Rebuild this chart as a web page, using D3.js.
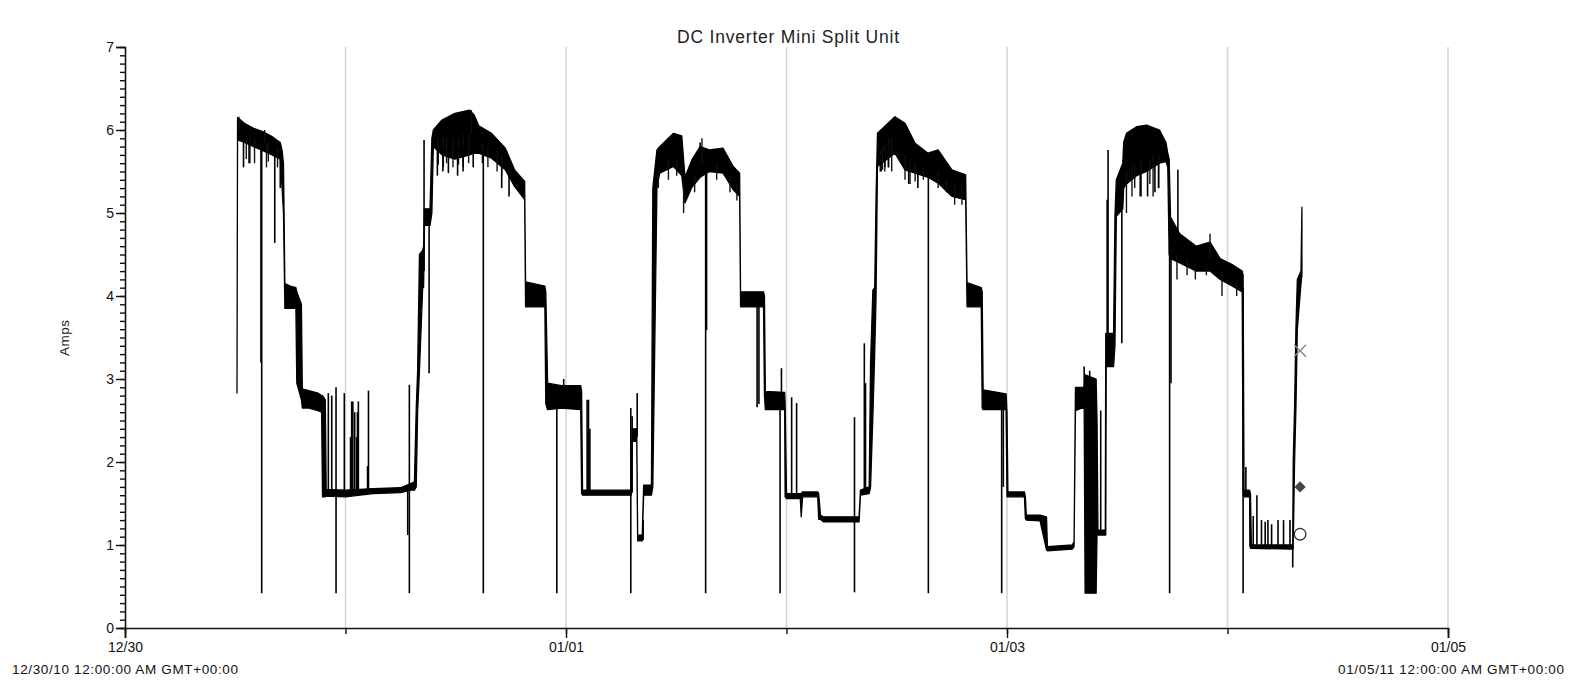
<!DOCTYPE html>
<html>
<head>
<meta charset="utf-8">
<script src="https://cdn.jsdelivr.net/npm/d3@7"></script>
<style>
html,body{margin:0;padding:0;background:#fff;}
svg{display:block;font-family:"Liberation Sans",Arial,sans-serif;}
</style>
</head>
<body>
<svg id="chart" width="1571" height="684"></svg>
<script>
// ---- Data (hours since 12/30/10 00:00 GMT, amps) ----
// Envelope of the dense current trace: low and high amps at each time
const traceHours = [12.19,12.25,13.0,14.0,15.0,16.0,16.9,17.1,17.25,17.4,18.0,18.6,18.7,19.2,19.3,20.0,21.0,21.4,21.5,21.8,21.9,24.0,27.0,30.0,31.1,31.5,31.7,31.85,32.05,32.4,32.5,32.6,33.2,33.4,33.56,34.5,35.9,37.5,38.0,38.5,39.9,41.4,42.4,43.5,43.6,45.7,45.8,46.0,47.5,49.6,49.7,49.8,55.0,55.1,55.2,55.7,55.8,56.3,56.45,57.3,57.45,57.9,58.2,59.7,60.6,60.95,61.7,62.6,63.6,65.1,66.2,66.9,67.0,69.5,69.6,69.7,71.8,71.85,72.0,73.5,73.6,73.75,75.4,75.5,75.7,76.0,79.9,80.05,81.0,81.15,81.4,81.6,81.75,81.9,83.8,84.9,86.0,87.4,88.5,90.0,91.5,91.65,93.2,93.3,93.4,95.9,96.0,96.1,97.9,98.0,98.1,99.6,100.3,100.4,103.1,103.3,103.45,104.4,104.5,105.7,105.8,105.9,106.6,106.7,106.75,106.8,107.6,107.75,107.9,108.6,108.7,109.0,110.1,111.2,112.6,113.3,113.5,113.65,113.8,114.8,116.6,118.1,119.2,120.5,121.6,121.7,121.8,122.4,122.5,122.6,127.1,127.15,127.3,127.45,127.6,128.0,128.1];
const traceLow   = [2.83,5.88,5.85,5.80,5.75,5.70,5.65,5.30,5.00,3.85,3.85,3.85,2.95,2.75,2.65,2.65,2.62,2.60,1.58,1.58,1.59,1.58,1.62,1.63,1.66,1.66,1.70,2.60,3.10,4.10,4.10,4.85,4.85,5.00,5.80,5.70,5.65,5.70,5.72,5.72,5.66,5.52,5.32,5.16,3.87,3.87,2.70,2.63,2.65,2.63,1.62,1.60,1.60,1.60,2.25,2.25,1.05,1.05,1.60,1.60,1.70,5.31,5.48,5.56,5.45,5.12,5.31,5.43,5.50,5.48,5.28,5.20,3.87,3.87,2.80,2.63,2.63,1.58,1.56,1.56,1.34,1.58,1.58,1.31,1.31,1.28,1.28,1.60,1.62,1.70,2.55,3.30,4.00,5.56,5.72,5.52,5.48,5.43,5.36,5.20,5.16,3.87,3.87,2.65,2.63,2.63,1.58,1.58,1.58,1.32,1.30,1.29,0.94,0.93,0.95,0.98,2.62,2.66,0.42,0.42,1.12,1.12,1.12,1.12,1.12,3.15,3.15,3.40,4.96,5.05,5.30,5.35,5.45,5.50,5.60,5.62,5.55,4.50,4.45,4.40,4.30,4.30,4.20,4.12,4.05,1.60,1.58,1.58,0.96,0.96,0.95,0.95,2.00,2.65,3.60,4.15,4.25];
const traceHigh  = [2.86,6.15,6.08,6.02,5.98,5.92,5.85,5.75,5.60,4.15,4.12,4.10,4.05,3.90,2.88,2.86,2.83,2.80,2.80,2.75,1.67,1.66,1.68,1.69,1.74,1.76,2.65,3.10,4.50,4.55,4.60,5.05,5.05,5.90,6.00,6.12,6.20,6.24,6.18,6.05,5.96,5.78,5.52,5.38,4.17,4.12,4.05,2.95,2.92,2.92,2.85,1.66,1.66,1.66,2.40,2.40,1.12,1.12,1.72,1.72,5.30,5.76,5.80,5.96,5.93,5.43,5.64,5.80,5.76,5.78,5.56,5.48,4.05,4.05,4.00,2.85,2.84,2.70,1.62,1.62,1.62,1.64,1.64,1.62,1.36,1.34,1.34,1.66,1.70,3.20,4.07,4.10,5.20,5.96,6.16,6.08,5.84,5.72,5.76,5.52,5.46,4.16,4.10,4.05,2.87,2.82,2.60,1.64,1.64,1.58,1.36,1.36,1.34,0.98,1.00,1.04,2.90,2.90,3.05,3.00,2.50,1.18,1.18,1.18,3.55,3.55,3.55,4.96,5.40,5.60,5.85,5.96,6.04,6.06,6.00,5.85,5.72,5.65,4.95,4.75,4.60,4.65,4.45,4.38,4.30,4.25,1.66,1.66,1.62,1.00,1.00,2.00,2.65,3.63,4.20,4.30,5.07];

// Brief excursions of the trace: time, level it leaves, level it reaches
const spikeHours = [12.9,13.5,14.8,14.88,16.3,16.9,22.13,22.5,22.97,22.97,23.87,24.55,24.67,24.8,25.0,25.2,25.3,25.4,26.4,26.5,30.77,30.95,30.95,32.55,33.1,34.0,34.6,35.2,36.2,36.8,37.9,39.0,41.0,41.8,47.0,47.75,50.3,50.45,50.6,55.05,55.05,55.2,55.75,56.4,62.6,63.2,63.3,68.8,69.0,71.3,71.45,72.56,73.1,79.4,79.4,80.47,80.6,82.3,82.7,83.1,85.3,86.3,87.44,95.42,95.6,104.4,105.0,106.2,106.9,107.0,108.5,110.5,111.3,112.1,112.5,113.7,113.85,114.6,121.7,122.0,122.45,122.8,123.2,123.7,124.1,124.4,124.8,125.5,126.1,126.8,127.1];
const spikeFrom  = [5.90,5.90,5.85,5.85,5.75,5.70,1.62,1.62,1.62,1.62,1.62,1.62,1.62,1.62,1.62,1.62,1.62,1.62,1.62,1.62,1.68,1.68,1.68,4.30,5.00,5.80,5.80,5.80,5.80,5.80,5.80,5.75,5.60,5.50,2.70,2.80,1.62,1.62,1.62,1.63,1.63,1.63,2.30,1.06,5.50,5.70,5.70,3.90,3.90,2.70,2.75,1.60,1.60,1.31,1.31,1.65,1.65,5.70,5.75,5.75,5.60,5.55,5.60,2.70,2.70,2.80,2.90,1.15,3.30,3.30,5.10,5.50,5.55,5.60,5.60,4.60,4.60,4.60,4.10,1.62,0.98,0.98,0.98,0.98,0.98,0.98,0.98,0.98,0.98,0.98,0.98];
const spikeTo    = [5.55,5.60,3.20,0.42,4.64,5.30,2.83,2.80,2.90,0.42,2.83,2.30,2.73,2.73,2.60,2.30,2.60,2.73,1.95,2.86,1.12,0.42,2.93,5.88,3.07,5.45,5.50,5.48,5.45,5.50,5.55,0.42,5.30,5.20,0.42,3.00,2.75,2.75,2.40,0.42,2.65,2.55,2.83,1.30,5.85,0.42,3.59,2.66,2.70,0.42,3.13,2.78,2.71,0.43,2.54,3.43,2.95,5.50,5.55,5.55,5.35,5.30,0.42,0.42,1.70,3.15,3.10,2.62,5.16,5.76,3.43,5.20,5.20,5.25,5.30,0.42,2.95,5.52,0.42,1.94,1.60,1.35,1.60,1.30,1.28,1.30,1.25,1.30,1.30,1.30,0.73];

// Fine ripple on the edges of the high-load bands: time, from, to
const rippleHours = [12.4,13.2,13.6,14.1,15.2,15.4,15.6,16.6,34.1,34.65,35.0,35.7,36.3,36.8,37.4,37.7,38.9,39.5,40.5,41.0,58.05,59.15,60.05,60.8,62.0,62.8,64.4,65.85,66.6,82.2,82.45,82.7,83.1,83.45,84.9,85.45,86.0,86.9,88.5,89.4,90.3,91.1,109.0,109.6,109.9,110.6,111.55,111.9,112.5,114.5,115.6,116.5,117.7,118.1,119.4,121.0];
const rippleFrom = [6.00,5.95,5.92,5.90,5.85,5.85,5.85,5.78,5.90,5.90,5.90,5.90,5.90,5.95,5.95,5.95,5.85,5.80,5.75,5.70,5.50,5.65,5.65,5.30,5.45,5.60,5.60,5.45,5.35,5.75,5.80,5.85,5.90,5.90,5.70,5.65,5.60,5.55,5.50,5.40,5.35,5.30,5.50,5.60,5.60,5.65,5.65,5.70,5.70,4.50,4.45,4.40,4.40,4.45,4.30,4.20];
const rippleTo   = [6.16,5.65,5.60,5.60,6.00,5.55,5.62,5.55,5.58,5.55,5.60,5.55,5.58,5.55,5.60,6.24,5.60,5.55,5.50,5.45,5.30,5.40,5.45,5.00,5.25,5.90,5.40,5.25,5.15,5.50,5.52,5.50,5.55,5.50,5.40,5.35,5.38,5.40,5.30,5.25,5.10,5.10,5.00,5.20,5.30,5.20,5.35,5.20,5.30,4.20,4.25,4.20,4.25,4.75,4.00,4.00];

// Summary markers drawn at the end of the trace
const markerHours  = [127.9, 127.9, 127.9];
const markerAmps   = [3.34, 1.70, 1.13];
const markerShapes = ["cross", "diamond", "circle"];

// Axes
const yMajorTicks = [0,1,2,3,4,5,6,7];
const dayTicks = ["2010-12-30","2010-12-31","2011-01-01","2011-01-02","2011-01-03","2011-01-04","2011-01-05"];
const labeledDays = ["2010-12-30","2011-01-01","2011-01-03","2011-01-05"];
const labeledDayText = ["12/30","01/01","01/03","01/05"];
const endLabels = ["12/30/10 12:00:00 AM GMT+00:00","01/05/11 12:00:00 AM GMT+00:00"];
const chartTitle = "DC Inverter Mini Split Unit";
const yTitle = "Amps";

// ---- Drawing ----
const svg = d3.select("#chart");
const start = new Date(Date.UTC(2010,11,30));
const toDate = h => new Date(start.getTime() + h*3600e3);
const parse = s => new Date(s + "T00:00:00Z");
const FONT = "Liberation Sans, Arial, sans-serif";

const x = d3.scaleUtc().domain([parse(dayTicks[0]), parse(dayTicks[dayTicks.length-1])]).range([125, 1448]);
const y = d3.scaleLinear().domain([0, 7]).range([628, 47]);

// grid lines
svg.append("g").selectAll("line").data(dayTicks.slice(1)).join("line")
  .attr("x1", d => x(parse(d))).attr("x2", d => x(parse(d)))
  .attr("y1", y(7)).attr("y2", y(0))
  .attr("stroke", "#d6d6d6").attr("stroke-width", 1.6);

// title
svg.append("text").attr("x", 788).attr("y", 43).attr("text-anchor", "middle")
  .attr("font-size", 17.5).attr("fill", "#222")
  .attr("textLength", 222).attr("lengthAdjust", "spacing").text(chartTitle);

// y title
svg.append("text").attr("transform", "translate(69,338) rotate(-90)")
  .attr("text-anchor", "middle").attr("font-size", 13.5).attr("fill", "#222")
  .attr("textLength", 36).attr("lengthAdjust", "spacing").text(yTitle);

// trace
const rows = traceHours.map((h,i) => ({t: toDate(h), lo: traceLow[i], hi: traceHigh[i]}));
const area = d3.area().x(d => x(d.t)).y0(d => y(d.lo)).y1(d => y(d.hi));
svg.append("path").datum(rows).attr("d", area)
  .attr("fill", "#000").attr("stroke", "#000").attr("stroke-width", 1.3).attr("stroke-linejoin", "round");

const ripples = rippleHours.map((h,i) => ({t: toDate(h), a: rippleFrom[i], b: rippleTo[i]}));
svg.append("g").selectAll("line").data(ripples).join("line")
  .attr("x1", d => x(d.t)).attr("x2", d => x(d.t))
  .attr("y1", d => y(d.a)).attr("y2", d => y(d.b))
  .attr("stroke", "#111").attr("stroke-width", 1.4);

const spikes = spikeHours.map((h,i) => ({t: toDate(h), a: spikeFrom[i], b: spikeTo[i]}));
svg.append("g").selectAll("line").data(spikes).join("line")
  .attr("x1", d => x(d.t)).attr("x2", d => x(d.t))
  .attr("y1", d => y(d.a)).attr("y2", d => y(d.b))
  .attr("stroke", "#000").attr("stroke-width", 1.6);

// markers
const markers = markerHours.map((h,i) => ({t: toDate(h), v: markerAmps[i], s: markerShapes[i]}));
const mg = svg.append("g");
markers.forEach(m => {
  const cx = x(m.t), cy = y(m.v);
  if (m.s === "cross") {
    mg.append("path").attr("d", `M${cx-6},${cy-6}L${cx+6},${cy+6}M${cx-6},${cy+6}L${cx+6},${cy-6}`)
      .attr("stroke", "#8a8a8a").attr("stroke-width", 1.5).attr("fill", "none");
  } else if (m.s === "diamond") {
    mg.append("path").attr("d", d3.symbol().type(d3.symbolDiamond2).size(80)())
      .attr("transform", `translate(${cx},${cy})`).attr("fill", "#444");
  } else {
    mg.append("circle").attr("cx", cx).attr("cy", cy).attr("r", 5.8)
      .attr("fill", "#fff").attr("stroke", "#333").attr("stroke-width", 1.3);
  }
});

// y axis
const yMinor = svg.append("g").attr("transform", "translate(125,0)")
  .call(d3.axisLeft(y).tickValues(d3.range(0, 71).map(i => i/10)).tickSize(5).tickFormat(""));
yMinor.select(".domain").remove();
yMinor.selectAll("line").attr("stroke", "#111").attr("stroke-width", 1.4);
const yAx = svg.append("g").attr("transform", "translate(125,0)")
  .call(d3.axisLeft(y).tickValues(yMajorTicks).tickSize(9).tickPadding(2).tickFormat(d3.format("d")));
yAx.select(".domain").attr("stroke", "#111").attr("stroke-width", 1.6);
yAx.selectAll("line").attr("stroke", "#111").attr("stroke-width", 1.4);
yAx.selectAll("text").attr("font-size", 14).attr("fill", "#111").attr("font-family", FONT);

// x axis
const xMinor = svg.append("g").attr("transform", "translate(0,628)")
  .call(d3.axisBottom(x).tickValues(dayTicks.map(parse)).tickSize(6).tickFormat(""));
xMinor.select(".domain").remove();
xMinor.selectAll("line").attr("stroke", "#111").attr("stroke-width", 1.4);
const xAx = svg.append("g").attr("transform", "translate(0,628)")
  .call(d3.axisBottom(x).tickValues(labeledDays.map(parse)).tickSize(10).tickPadding(4)
    .tickFormat((d,i) => labeledDayText[i]));
xAx.select(".domain").attr("stroke", "#111").attr("stroke-width", 1.6);
xAx.selectAll("line").attr("stroke", "#111").attr("stroke-width", 1.4);
xAx.selectAll("text").attr("font-size", 14).attr("fill", "#111").attr("font-family", FONT);

// full date labels under the ends
svg.append("g").selectAll("text").data(endLabels).join("text")
  .attr("x", (d,i) => i === 0 ? x(parse(dayTicks[0])) : x(parse(dayTicks[dayTicks.length-1])) + 3)
  .attr("y", 674).attr("text-anchor", "middle").attr("font-size", 13.5).attr("fill", "#111")
  .attr("textLength", 226).attr("lengthAdjust", "spacing")
  .text(d => d);
</script>
</body>
</html>
